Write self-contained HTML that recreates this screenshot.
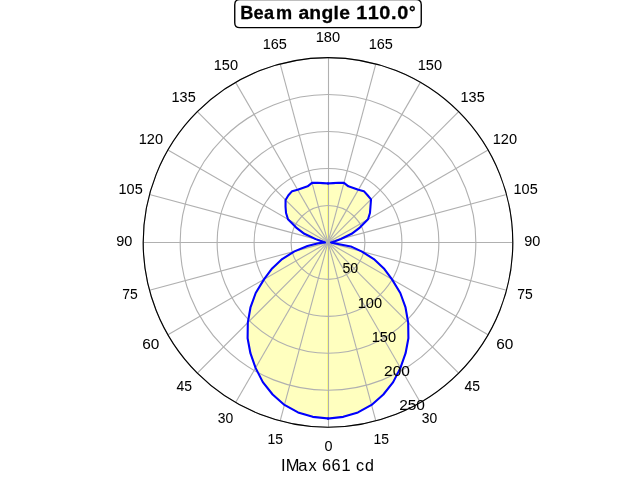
<!DOCTYPE html>
<html><head><meta charset="utf-8"><title>Beam angle 110.0°</title>
<style>
html,body{margin:0;padding:0;background:#fff;overflow:hidden}
svg{display:block;will-change:transform;font-family:"Liberation Sans",sans-serif;fill:#000}
.g{stroke:#b0b0b0;stroke-width:1.111;fill:none}
.f{fill:#ff0;fill-opacity:.25;stroke:#ff0;stroke-opacity:.25;stroke-width:1.389;stroke-linejoin:miter}
.l{fill:none;stroke:#00f;stroke-width:2.083;stroke-linejoin:round;stroke-linecap:square}
</style></head><body>
<svg width="640" height="480" viewBox="0 0 640 480">
<rect width="640" height="480" fill="#fff"/>
<polygon class="f" points="328.00,418.48 343.26,416.85 357.97,412.38 371.54,404.91 383.37,394.52 393.17,382.15 400.44,367.87 405.59,353.21 408.40,338.21 408.18,322.58 405.52,307.45 400.30,293.02 392.02,279.36 383.87,268.45 373.84,259.09 361.56,251.39 350.71,246.40 331.68,242.72 330.96,242.40 332.42,242.01 334.99,241.17 340.85,238.96 351.62,233.80 359.82,227.56 368.01,219.30 369.96,213.02 370.47,206.76 371.02,199.38 367.58,195.23 363.87,191.17 358.34,189.84 353.37,188.00 348.40,186.34 343.96,182.85 338.53,182.71 333.19,183.12 328.00,183.41"/>
<polygon class="f" points="328.00,418.48 312.74,416.85 298.03,412.38 284.46,404.91 272.63,394.52 262.83,382.15 255.56,367.87 250.41,353.21 247.60,338.21 247.82,322.58 250.48,307.45 255.70,293.02 263.98,279.36 272.13,268.45 282.16,259.09 294.44,251.39 307.47,246.02 318.28,243.25 325.04,242.40 323.58,242.01 321.59,241.27 315.72,239.11 304.38,233.80 296.18,227.56 287.99,219.30 286.04,213.02 285.53,206.76 285.56,199.96 288.42,195.23 292.13,191.17 297.66,189.84 302.63,188.00 307.60,186.34 312.04,182.85 317.47,182.71 322.81,183.12 328.00,183.41"/>
<g class="g">
<line x1="328.50" y1="242.40" x2="328.50" y2="427.20"/>
<line x1="328.00" y1="242.40" x2="375.83" y2="420.90"/>
<line x1="328.00" y1="242.40" x2="420.40" y2="402.44"/>
<line x1="328.00" y1="242.40" x2="458.67" y2="373.07"/>
<line x1="328.00" y1="242.40" x2="488.04" y2="334.80"/>
<line x1="328.00" y1="242.40" x2="506.50" y2="290.23"/>
<line x1="328.00" y1="242.50" x2="512.80" y2="242.50"/>
<line x1="328.00" y1="242.40" x2="506.50" y2="194.57"/>
<line x1="328.00" y1="242.40" x2="488.04" y2="150.00"/>
<line x1="328.00" y1="242.40" x2="458.67" y2="111.73"/>
<line x1="328.00" y1="242.40" x2="420.40" y2="82.36"/>
<line x1="328.00" y1="242.40" x2="375.83" y2="63.90"/>
<line x1="328.50" y1="242.40" x2="328.50" y2="57.60"/>
<line x1="328.00" y1="242.40" x2="280.17" y2="63.90"/>
<line x1="328.00" y1="242.40" x2="235.60" y2="82.36"/>
<line x1="328.00" y1="242.40" x2="197.33" y2="111.73"/>
<line x1="328.00" y1="242.40" x2="167.96" y2="150.00"/>
<line x1="328.00" y1="242.40" x2="149.50" y2="194.57"/>
<line x1="328.00" y1="242.50" x2="143.20" y2="242.50"/>
<line x1="328.00" y1="242.40" x2="149.50" y2="290.23"/>
<line x1="328.00" y1="242.40" x2="167.96" y2="334.80"/>
<line x1="328.00" y1="242.40" x2="197.33" y2="373.07"/>
<line x1="328.00" y1="242.40" x2="235.60" y2="402.44"/>
<line x1="328.00" y1="242.40" x2="280.17" y2="420.90"/>
<circle cx="328.0" cy="242.4" r="36.96"/>
<circle cx="328.0" cy="242.4" r="73.92"/>
<circle cx="328.0" cy="242.4" r="110.88"/>
<circle cx="328.0" cy="242.4" r="147.84"/>
<circle cx="328.0" cy="242.4" r="184.80"/>
</g>
<polyline class="l" points="328.00,418.48 343.26,416.85 357.97,412.38 371.54,404.91 383.37,394.52 393.17,382.15 400.44,367.87 405.59,353.21 408.40,338.21 408.18,322.58 405.52,307.45 400.30,293.02 392.02,279.36 383.87,268.45 373.84,259.09 361.56,251.39 350.71,246.40 331.68,242.72 330.96,242.40 332.42,242.01 334.99,241.17 340.85,238.96 351.62,233.80 359.82,227.56 368.01,219.30 369.96,213.02 370.47,206.76 371.02,199.38 367.58,195.23 363.87,191.17 358.34,189.84 353.37,188.00 348.40,186.34 343.96,182.85 338.53,182.71 333.19,183.12 328.00,183.41"/>
<polyline class="l" points="328.00,418.48 312.74,416.85 298.03,412.38 284.46,404.91 272.63,394.52 262.83,382.15 255.56,367.87 250.41,353.21 247.60,338.21 247.82,322.58 250.48,307.45 255.70,293.02 263.98,279.36 272.13,268.45 282.16,259.09 294.44,251.39 307.47,246.02 318.28,243.25 325.04,242.40 323.58,242.01 321.59,241.27 315.72,239.11 304.38,233.80 296.18,227.56 287.99,219.30 286.04,213.02 285.53,206.76 285.56,199.96 288.42,195.23 292.13,191.17 297.66,189.84 302.63,188.00 307.60,186.34 312.04,182.85 317.47,182.71 322.81,183.12 328.00,183.41"/>
<circle cx="328.0" cy="242.4" r="184.80" fill="none" stroke="#000" stroke-width="1.111"/>
<path d="M239.75 27.66H416.25Q421.25 27.66 421.25 22.66V4.66Q421.25 -0.34 416.25 -0.34H239.75Q234.75 -0.34 234.75 4.66V22.66Q234.75 27.66 239.75 27.66Z" fill="#fff" stroke="#000" stroke-width="1.389"/>
<g style="filter:grayscale(1)">
<text transform="translate(324.40 450.82) scale(1.0312 1)" font-size="13.99" stroke="#000" stroke-width="0.04">0</text>
<text transform="translate(373.59 443.84) scale(0.9780 1)" font-size="14.27" stroke="#000" stroke-width="0.04">15</text>
<text transform="translate(421.71 422.82) scale(0.9965 1)" font-size="13.97" stroke="#000" stroke-width="0.04">30</text>
<text transform="translate(464.45 390.81) scale(0.9805 1)" font-size="14.23" stroke="#000" stroke-width="0.04">45</text>
<text transform="translate(496.24 348.81) scale(1.1009 1)" font-size="13.98" stroke="#000" stroke-width="0.04">60</text>
<text transform="translate(517.31 298.84) scale(0.9767 1)" font-size="14.27" stroke="#000" stroke-width="0.04">75</text>
<text transform="translate(524.27 245.82) scale(1.0354 1)" font-size="13.98" stroke="#000" stroke-width="0.04">90</text>
<text transform="translate(513.57 193.84) scale(1.0309 1)" font-size="14.06" stroke="#000" stroke-width="0.04">105</text>
<text transform="translate(492.67 143.84) scale(1.0372 1)" font-size="14.06" stroke="#000" stroke-width="0.04">120</text>
<text transform="translate(460.57 101.84) scale(1.0309 1)" font-size="14.06" stroke="#000" stroke-width="0.04">135</text>
<text transform="translate(417.67 69.84) scale(1.0372 1)" font-size="14.06" stroke="#000" stroke-width="0.04">150</text>
<text transform="translate(368.68 48.84) scale(1.0334 1)" font-size="14.06" stroke="#000" stroke-width="0.04">165</text>
<text transform="translate(315.66 41.84) scale(1.0423 1)" font-size="14.06" stroke="#000" stroke-width="0.04">180</text>
<text transform="translate(262.68 48.84) scale(1.0334 1)" font-size="14.06" stroke="#000" stroke-width="0.04">165</text>
<text transform="translate(213.67 69.84) scale(1.0372 1)" font-size="14.06" stroke="#000" stroke-width="0.04">150</text>
<text transform="translate(171.57 101.84) scale(1.0309 1)" font-size="14.06" stroke="#000" stroke-width="0.04">135</text>
<text transform="translate(138.67 143.84) scale(1.0372 1)" font-size="14.06" stroke="#000" stroke-width="0.04">120</text>
<text transform="translate(118.57 193.84) scale(1.0309 1)" font-size="14.06" stroke="#000" stroke-width="0.04">105</text>
<text transform="translate(116.27 245.82) scale(1.0354 1)" font-size="13.98" stroke="#000" stroke-width="0.04">90</text>
<text transform="translate(122.31 298.84) scale(0.9767 1)" font-size="14.27" stroke="#000" stroke-width="0.04">75</text>
<text transform="translate(142.24 348.81) scale(1.1009 1)" font-size="13.98" stroke="#000" stroke-width="0.04">60</text>
<text transform="translate(176.45 390.81) scale(0.9805 1)" font-size="14.23" stroke="#000" stroke-width="0.04">45</text>
<text transform="translate(217.71 422.82) scale(0.9965 1)" font-size="13.97" stroke="#000" stroke-width="0.04">30</text>
<text transform="translate(267.59 443.84) scale(0.9780 1)" font-size="14.27" stroke="#000" stroke-width="0.04">15</text>
<text transform="translate(342.49 272.82) scale(1.0078 1)" font-size="14.03" stroke="#000" stroke-width="0.04">50</text>
<text transform="translate(357.67 307.84) scale(1.0372 1)" font-size="14.06" stroke="#000" stroke-width="0.04">100</text>
<text transform="translate(371.67 341.84) scale(1.0372 1)" font-size="14.06" stroke="#000" stroke-width="0.04">150</text>
<text transform="translate(384.12 375.84) scale(1.1028 1)" font-size="14.01" stroke="#000" stroke-width="0.04">200</text>
<text transform="translate(399.15 409.84) scale(1.0995 1)" font-size="14.06" stroke="#000" stroke-width="0.04">250</text>
<text transform="translate(0 18.68) scale(0.9967 1)" x="241.09 254.37 264.98 276.92" font-size="18.23" font-weight="bold" stroke="#000" stroke-width="0.28">Beam</text>
<text transform="translate(0 18.84) scale(1.0215 1)" x="292.13 302.68 314.66 326.43 332.07" font-size="18.90" font-weight="bold" stroke="#000" stroke-width="0.28">angle</text>
<text transform="translate(0 18.68) scale(1.1041 1)" x="322.71 333.12 343.41 354.06 359.72" font-size="17.97" font-weight="bold" stroke="#000" stroke-width="0.28">110.0</text>
<text transform="translate(408.92 17.98) scale(0.9008 1)" font-size="18.34" font-weight="bold" stroke="#000" stroke-width="0.28">°</text>
<text transform="translate(0 470.81) scale(0.9599 1)" x="292.62 297.76 310.71 321.45" font-size="17.14" stroke="#000" stroke-width="0.04">IMax</text>
<text transform="translate(0 470.82) scale(0.9673 1)" x="333.01 342.83 352.99" font-size="16.89" stroke="#000" stroke-width="0.04">661</text>
<text transform="translate(0 470.80) scale(1.0055 1)" x="354.14 362.95" font-size="15.92" stroke="#000" stroke-width="0.04">cd</text>
</g>
</svg>
</body></html>
